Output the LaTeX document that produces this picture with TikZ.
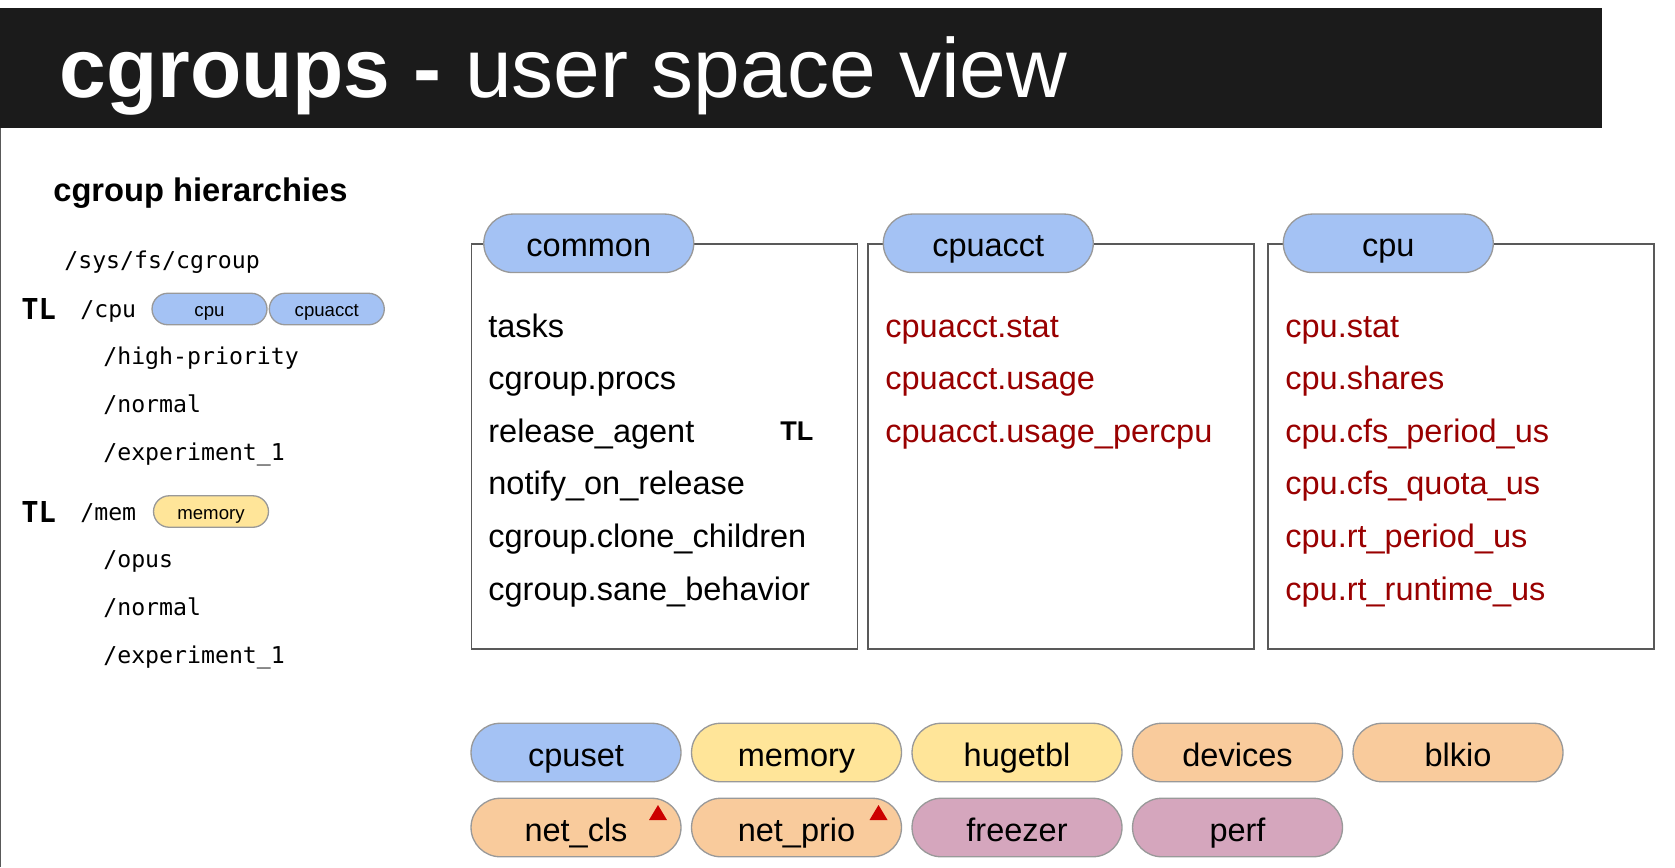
\documentclass[tikz,border=0pt]{standalone}
\usepackage{fontspec}
\setmainfont{Liberation Sans}
\setmonofont{DejaVu Sans Mono}
\usepackage{tikz}
\usetikzlibrary{positioning}
\usetikzlibrary{shapes.misc,fit}
\definecolor{titlebg}{HTML}{1B1B1B}
\definecolor{boxline}{HTML}{595959}
\definecolor{pillline}{HTML}{999999}
\definecolor{pillblue}{HTML}{A4C2F4}
\definecolor{pillyellow}{HTML}{FFE599}
\definecolor{pillorange}{HTML}{F9CB9C}
\definecolor{pillpurple}{HTML}{D5A6BD}
\definecolor{knobred}{HTML}{990000}
\definecolor{alertred}{HTML}{CC0000}
\tikzset{
  pill/.style={shape=rounded rectangle,draw=pillline,line width=0.75pt,inner sep=0,
    minimum width=4.2cm,minimum height=1.17cm,text height=15.4pt,text depth=0pt,
    font=\fontsize{18.5}{22}\selectfont},
  smallpill/.style={pill,minimum width=2.3cm,minimum height=0.63cm,text height=8.8pt,text depth=0pt,
    font=\fontsize{10.6}{12}\selectfont},
  attrbox/.style={draw=boxline,line width=0.85pt,minimum width=7.72cm,minimum height=8.1cm,inner sep=0},
  entry/.style={anchor=base west,inner sep=0,font=\fontsize{18.5}{22}\selectfont},
  knob/.style={entry,text=knobred},
  dirname/.style={anchor=base west,inner sep=0,font=\ttfamily\fontsize{13.2}{16}\selectfont},
  tlmark/.style={anchor=base west,inner sep=0,font=\ttfamily\bfseries\fontsize{16.4}{19}\selectfont}
}
\begin{document}
\begin{tikzpicture}[x=0.02cm,y=-0.02cm]
  \useasboundingbox (0,0) rectangle (1675,867);
  \fill[titlebg] (0,8) rectangle (1602,128);
  \draw[boxline,line width=0.8pt] (0.6,128) -- (0.6,867);
  \node[anchor=base west,inner sep=0,text=white,font=\fontsize{47.8}{56}\selectfont] (title) at (59,97)
    {\bfseries cgroups -\mdseries\ user space view};

  \node[entry,font=\bfseries\fontsize{18.6}{22}\selectfont] (hier) at (53,201) {cgroup hierarchies};
  \node[dirname] (sysfs) at (64,268) {/sys/fs/cgroup};
  \node[tlmark] (tlcpu) at (21,319) {TL};
  \node[dirname] (cpudir) at (80,317) {/cpu};
  \node[smallpill,fill=pillblue] (cpupill) at (209.5,309) {cpu};
  \node[smallpill,fill=pillblue,right=0.02cm of cpupill] (acctpill) {cpuacct};
  \node[dirname] (cpuhigh) at (103,364) {/high-priority};
  \node[dirname] (cpunorm) at (103,412) {/normal};
  \node[dirname] (cpuexp) at (103,460) {/experiment\_1};
  \node[tlmark] (tlmem) at (21,522) {TL};
  \node[dirname] (memdir) at (80,520) {/mem};
  \node[smallpill,fill=pillyellow] (mempill) at (211,511.5) {memory};
  \node[dirname] (memopus) at (103,567) {/opus};
  \node[dirname] (memnorm) at (103,615) {/normal};
  \node[dirname] (memexp) at (103,663) {/experiment\_1};

  \node[attrbox] (comBox) at (664.5,446.5) {};
  \node[attrbox] (acctBox) at (1061,446.5) {};
  \node[attrbox] (cpuBox) at (1461,446.5) {};
  \node[pill,fill=pillblue] (comHead) at ([xshift=2.36cm]comBox.north west) {common};
  \node[pill,fill=pillblue] (acctHead) at ([xshift=2.42cm]acctBox.north west) {cpuacct};
  \node[pill,fill=pillblue] (cpuHead) at ([xshift=2.42cm]cpuBox.north west) {cpu};

  \foreach \t [count=\i] in {tasks,cgroup.procs,release\_agent,notify\_on\_release,
      cgroup.clone\_children,cgroup.sane\_behavior}
    \node[entry] (com\i) at (488,284.5+52.6*\i) {\t};
  \node[anchor=base west,inner sep=0,font=\bfseries\fontsize{15.4}{18}\selectfont] (tlcom) at (780,440) {TL};
  \foreach \t [count=\i] in {cpuacct.stat,cpuacct.usage,cpuacct.usage\_percpu}
    \node[knob] (acct\i) at (885,284.5+52.6*\i) {\t};
  \foreach \t [count=\i] in {cpu.stat,cpu.shares,cpu.cfs\_period\_us,cpu.cfs\_quota\_us,
      cpu.rt\_period\_us,cpu.rt\_runtime\_us}
    \node[knob] (cpu\i) at (1285,284.5+52.6*\i) {\t};

  \foreach \n/\lbl/\col [count=\i from 0] in {cpuset/cpuset/pillblue,memory/memory/pillyellow,
      hugetbl/hugetbl/pillyellow,devices/devices/pillorange,blkio/blkio/pillorange}
    \node[pill,fill=\col] (\n) at (576+220.5*\i,752.5) {\lbl};
  \foreach \n/\lbl/\col [count=\i from 0] in {netcls/net\_cls/pillorange,netprio/net\_prio/pillorange,
      freezer/freezer/pillpurple,perf/perf/pillpurple}
    \node[pill,fill=\col] (\n) at (576+220.5*\i,827.5) {\lbl};
  \fill[alertred,shift={(netcls.center)}] (73,-7.5) -- (91,-7.5) -- (82,-22.5) -- cycle;
  \fill[alertred,shift={(netprio.center)}] (73,-7.5) -- (91,-7.5) -- (82,-22.5) -- cycle;
\end{tikzpicture}
\end{document}
